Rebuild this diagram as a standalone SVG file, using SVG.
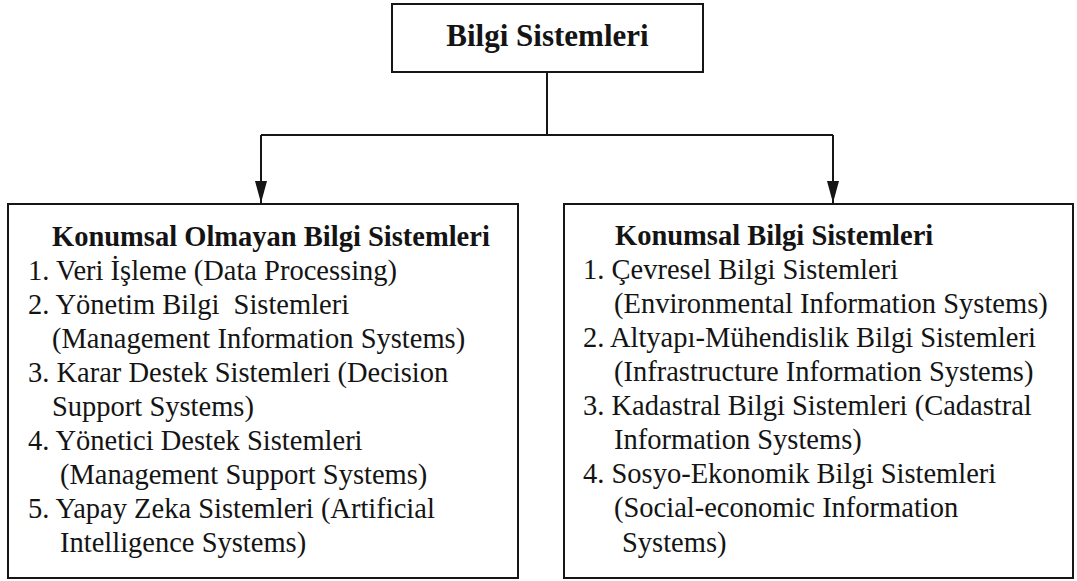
<svg xmlns="http://www.w3.org/2000/svg" width="1077" height="581" viewBox="0 0 1077 581">
<style>
.box{fill:#fff;stroke:#161616;stroke-width:2}
.conn{fill:none;stroke:#161616;stroke-width:2}
text{font-family:"Liberation Serif","Times New Roman",serif;fill:#141414}
.t{font-size:28.5px;white-space:pre}
.h{font-size:28.5px;font-weight:bold}
.title{font-size:31px;font-weight:bold}
</style>
<defs>
<marker id="arr" markerUnits="userSpaceOnUse" markerWidth="24" markerHeight="14" refX="22" refY="7" orient="auto">
<path d="M0,1 L22,7 L0,13 z" fill="#161616"/>
</marker>
</defs>
<rect width="1077" height="581" fill="#fff"/>
<g id="connectors">
<path class="conn" d="M547,72 V135"/>
<path class="conn" d="M261,135 H833"/>
<path class="conn" d="M261,135 V203" marker-end="url(#arr)"/>
<path class="conn" d="M833,135 V203" marker-end="url(#arr)"/>
</g>
<g id="root">
<rect class="box" x="392" y="4" width="311" height="68"/>
<text class="title" x="547.5" y="46" text-anchor="middle">Bilgi Sistemleri</text>
</g>
<g id="nonspatial">
<rect class="box" x="8" y="204" width="510" height="374"/>
<text class="h" x="52" y="246">Konumsal Olmayan Bilgi Sistemleri</text>
<text class="t" x="28" y="280">1. Veri İşleme (Data Processing)</text>
<text class="t" x="28" y="314" xml:space="preserve">2. Yönetim Bilgi  Sistemleri</text>
<text class="t" x="52" y="348">(Management Information Systems)</text>
<text class="t" x="28" y="382">3. Karar Destek Sistemleri (Decision</text>
<text class="t" x="52" y="416">Support Systems)</text>
<text class="t" x="28" y="450">4. Yönetici Destek Sistemleri</text>
<text class="t" x="60" y="484">(Management Support Systems)</text>
<text class="t" x="28" y="518">5. Yapay Zeka Sistemleri (Artificial</text>
<text class="t" x="60" y="552">Intelligence Systems)</text>
</g>
<g id="spatial">
<rect class="box" x="564" y="204" width="509" height="374"/>
<text class="h" x="615" y="245">Konumsal Bilgi Sistemleri</text>
<text class="t" x="583" y="279">1. Çevresel Bilgi Sistemleri</text>
<text class="t" x="614" y="313">(Environmental Information Systems)</text>
<text class="t" x="583" y="347">2. Altyapı-Mühendislik Bilgi Sistemleri</text>
<text class="t" x="614" y="381">(Infrastructure Information Systems)</text>
<text class="t" x="583" y="415">3. Kadastral Bilgi Sistemleri (Cadastral</text>
<text class="t" x="614" y="449">Information Systems)</text>
<text class="t" x="583" y="483">4. Sosyo-Ekonomik Bilgi Sistemleri</text>
<text class="t" x="614" y="517">(Social-economic Information</text>
<text class="t" x="622" y="552">Systems)</text>
</g>
</svg>
